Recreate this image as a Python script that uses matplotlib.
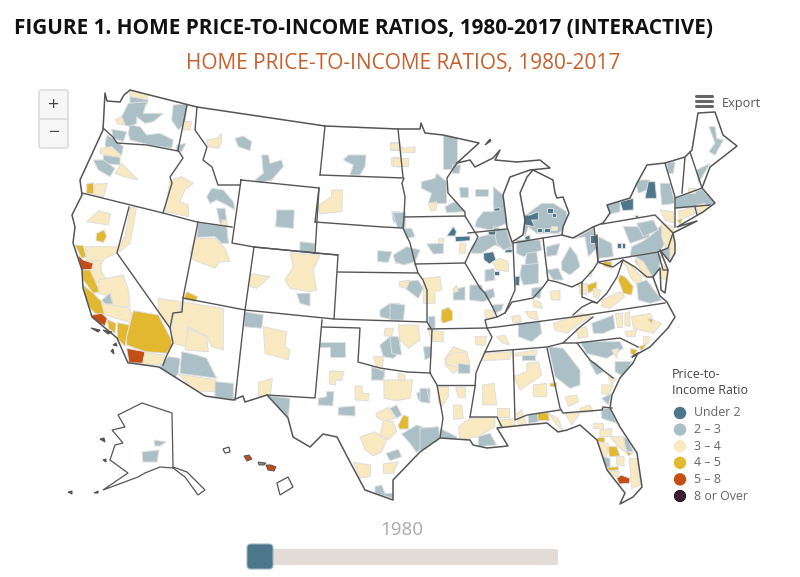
import matplotlib
matplotlib.use("Agg")
import matplotlib.pyplot as plt
from matplotlib.patches import Polygon, FancyBboxPatch, PathPatch, Circle
from matplotlib.path import Path

TITLE = "FIGURE 1. HOME PRICE-TO-INCOME RATIOS, 1980-2017 (INTERACTIVE)"
SUBTITLE = "HOME PRICE-TO-INCOME RATIOS, 1980-2017"
YEAR = "1980"
LEGEND_TITLE = ["Price-to-", "Income Ratio"]
CATEGORIES = ["Under 2", "2 – 3", "3 – 4", "4 – 5", "5 – 8", "8 or Over"]
COLORS = ["#4c7689", "#abbfc6", "#f9e9c0", "#e2b82f", "#c44f14", "#3a1e2e"]
D, G, Y, A, O = 0, 1, 2, 3, 4

US_OUTLINE = [(105,93),(107,101),(120,102),(124,95),(130,90),(197,107),(325,126),(398,129),(420,129),(421,123),(425,133),(443,135),(479,143),
 (457,163),(470,160),(475,167),(493,158),(500,150),(495,160),(517,162),(540,160),(550,168),(530,170),(510,177),(503,195),(505,210),(507,227),(512,242),(523,235),(525,220),
 (520,193),(527,177),(533,170),(553,180),(555,193),(557,198),(563,197),(569,213),(563,227),(562,235),(573,238),(593,227),(603,223),(610,213),(607,205),(630,198),
 (637,183),(647,165),(665,163),(685,157),(692,150),(698,113),(715,112),(723,135),(737,146),(723,157),(710,167),(702,188),(715,203),(703,212),(677,227),(697,221),(673,233),
 (675,243),(675,253),(670,262),(660,250),(668,270),(665,293),(661,290),(660,268),(653,277),(660,296),(667,302),(675,317),(668,328),(650,347),(632,357),(638,353),(633,363),
 (620,378),(612,395),(610,408),(620,427),(637,453),(642,487),(633,497),(620,504),(625,493),(607,470),(597,440),(580,425),(567,430),(558,432),(547,423),(525,425),
 (497,428),(508,446),(487,448),(473,445),(470,440),(440,438),(420,452),(393,480),(393,500),(365,490),(350,462),(337,437),(323,434),(310,447),(293,437),(288,418),
 (267,395),(245,402),(243,396),(233,400),(205,396),(159,367),(130,363),(128,363),(117,338),(92,317),(83,288),(82,270),(73,243),(75,227),(72,215),(82,195),(80,180),(103,130)]

STATE_LINES = [
 [(82,193),(163,213),(197,222),(232,227)],
 [(103,128),(113,137),(117,143),(147,145),(178,151)],
 [(187,105),(178,150),(183,158),(170,177),(172,183),(163,213)],
 [(197,107),(195,130),(207,147),(203,160),(212,167),(218,185),(240,185)],
 [(241,180),(319,188),(315,253),(254,247),(232,243),(241,180)],
 [(198,222),(183,298),(245,310),(254,247)],
 [(129,207),(117,253),(170,328),(173,343),(167,355),(163,365)],
 [(183,298),(182,312),(173,313),(170,328)],
 [(245,310),(235,400)],
 [(245,310),(334,319),(338,255),(254,247)],
 [(322,320),(315,398),(267,395)],
 [(322,327),(360,328),(358,362),(380,368),(407,372),(430,373)],
 [(334,319),(427,322)],
 [(338,272),(418,273),(423,280),(427,290),(427,322),(432,330),(430,373)],
 [(315,222),(383,227),(403,228),(410,243),(415,263),(418,273)],
 [(338,255),(314,253)],[(315,222),(319,188)],
 [(320,175),(404,178),(402,183),(405,197),(404,217),(403,228)],
 [(325,126),(320,175)],[(398,129),(403,177)],
 [(404,217),(465,216),(478,237),(470,252),(465,263),(480,288),(485,293),(493,308),(497,317),(505,313),(515,290),(513,243)],
 [(457,163),(447,178),(448,193),(465,212),(465,216)],
 [(415,264),(465,263)],
 [(468,233),(507,229)],
 [(513,243),(543,238),(562,235)],
 [(543,238),(548,280)],
 [(505,313),(512,302),(523,300),(533,298),(543,287),(548,280),(557,282),(572,287),(582,282),(593,270),(598,262),(597,235)],
 [(594,227),(598,262)],
 [(602,224),(655,215),(663,223),(673,233),(668,248),(658,252),(598,262)],
 [(665,163),(675,197),(675,227)],
 [(675,208),(710,205)],[(675,198),(702,188)],[(695,207),(697,215)],
 [(685,157),(682,193)],[(690,152),(702,188)],
 [(598,262),(600,263),(613,267),(623,260),(635,267),(647,277),(653,277)],
 [(658,252),(663,270),(668,270)],
 [(623,260),(617,277),(607,293),(597,303),(582,297),(582,282)],
 [(573,315),(582,307),(592,302),(597,303)],
 [(487,328),(497,327),(573,317),(665,303)],
 [(428,329),(487,328),(485,320),(497,317)],
 [(487,328),(492,337),(485,352),(480,363),(476,373),(475,387),(470,417)],
 [(485,352),(547,347),(563,343)],
 [(593,317),(580,327),(563,343),(577,343),(620,338),(638,347)],
 [(577,343),(590,360),(613,378)],
 [(547,348),(560,408),(563,413),(602,410),(603,407),(612,408)],
 [(513,350),(515,420),(527,415),(560,410)],
 [(437,385),(475,385)],
 [(430,373),(437,385),(443,418),(440,438)],
 [(470,417),(497,417),(502,427)],
]

ALASKA = [(118,415),(142,403),(172,413),(173,467),(187,472),(205,490),(198,495),(185,477),(173,468),(160,467),(145,473),(138,477),(103,490),(128,473),
 (110,460),(115,445),(123,443),(112,430),(125,427)]
HAWAII_BIG = [(277,483),(288,477),(293,487),(280,495)]
HAWAII_KAUAI = [(223,449),(229,447),(230,452),(225,453)]
HAWAII_OAHU = [(244,456),(249,455),(252,459),(247,461)]
HAWAII_MAUI = [(266,465),(271,465),(276,467),(274,471),(268,470)]
HAWAII_MOLOKAI = [(258,462),(266,463),(264,465),(259,465)]
AK_METROS = [[(142,452),(159,450),(157,462),(143,462)],[(154,440),(166,442),(160,446),(155,446)]]
ISLANDS = [[(91,328),(100,330),(98,332)],[(103,330),(112,332),(108,334)],[(113,345),(116,343),(117,346)],[(111,351),(113,349),(114,354)],
 [(100,439),(104,438),(105,442)],[(103,460),(106,459),(106,462)],[(68,492),(72,491),(72,494)],[(94,493),(98,491),(98,493)],[(485,145),(490,139),(491,141)]]

WEST = [
 (Y,[(298,30),(355,45),(350,60),(300,50)]),(G,[(300,50),(355,60),(350,75),(300,80)]),
 (G,[(270,120),(295,70),(350,65),(340,100),(400,100),(370,125),(345,130),(320,110),(320,130),(300,140),(270,130)]),
 (Y,[(255,120),(275,110),(285,132),(265,133)]),(G,[(430,75),(472,72),(465,130),(445,150),(425,120)]),(Y,[(460,125),(485,125),(480,150),(460,150)]),
 (G,[(300,135),(330,140),(350,165),(390,160),(430,180),(425,205),(360,195),(300,180),(295,160)]),(G,[(245,148),(290,155),(280,185),(250,175)]),
 (G,[(230,165),(250,175),(280,200),(275,225),(245,225),(225,195)]),(Y,[(212,205),(245,200),(272,225),(270,235),(230,225),(210,220)]),
 (G,[(220,225),(270,232),(270,255),(220,250)]),(G,[(190,240),(220,240),(255,265),(240,290),(205,270)]),(Y,[(255,280),(275,250),(295,270),(325,300),(280,290)]),
 (A,[(170,312),(190,308),(192,342),(170,340)]),(Y,[(195,312),(232,310),(220,352),(190,342)]),(G,[(440,195),(468,190),(455,215),(440,215)]),
 (Y,[(530,180),(560,175),(575,160),(575,185),(565,205),(535,200)]),(G,[(615,175),(640,168),(665,185),(660,212),(625,200)]),
 (G,[(675,300),(700,280),(695,225),(715,225),(720,250),(755,240),(760,260),(725,300),(690,308)]),
 (Y,[(420,300),(455,290),(490,310),(465,330),(450,365),(475,375),(475,410),(405,395)]),(G,[(530,350),(545,325),(580,330),(610,365),(615,390),(590,375),(560,360),(540,370)]),
 (G,[(560,385),(585,385),(590,425),(570,430)]),(Y,[(575,420),(590,420),(595,490),(575,480)]),(G,[(740,390),(793,390),(790,445),(737,440)]),
 (G,[(810,485),(855,490),(852,520),(810,515)]),(Y,[(865,375),(905,350),(905,330),(938,330),(935,395),(870,402)]),
 (G,[(940,240),(955,225),(1008,225),(1005,260),(990,285),(960,285),(970,255)]),(Y,[(1080,185),(1110,185),(1110,210),(1080,210)]),(Y,[(1085,232),(1110,232),(1110,262),(1085,258)]),
 (G,[(1085,395),(1110,395),(1110,435),(1090,425)]),(G,[(1043,512),(1085,515),(1075,547),(1043,545)]),(G,[(1095,530),(1110,530),(1110,550),(1095,550)]),
 (G,[(1050,690),(1080,670),(1110,670),(1110,725),(1050,710)]),(Y,[(170,425),(205,392),(242,402),(235,435)]),(A,[(200,460),(222,450),(230,470),(220,487),(198,482)]),
 (Y,[(300,382),(320,382),(300,490),(270,515),(265,500),(285,470)]),(A,[(135,495),(160,497),(168,530),(155,535)]),
 (Y,[(165,500),(260,500),(262,520),(225,535),(200,575),(170,540)]),(Y,[(180,545),(210,540),(215,575),(230,600),(190,610),(170,570)]),
 (O,[(145,525),(160,540),(190,550),(185,568),(160,570),(152,590)]),(A,[(155,570),(180,570),(210,635),(190,640),(160,600)]),
 (Y,[(205,600),(280,585),(295,630),(300,680),(250,680),(245,650),(205,640)]),(A,[(160,615),(190,640),(215,665),(225,715),(195,700),(180,685),(165,650)]),
 (G,[(215,660),(240,640),(248,672),(225,672)]),(Y,[(215,670),(300,685),(310,730),(225,705)]),(O,[(185,705),(215,700),(232,715),(225,738),(188,720)]),
 (A,[(232,718),(258,730),(255,760),(235,745)]),(A,[(262,728),(298,735),(290,770),(285,800),(262,775)]),
 (A,[(310,692),(385,705),(430,790),(410,820),(345,815),(290,795),(290,770)]),(O,[(290,805),(345,815),(338,850),(297,848)]),(Y,[(345,818),(405,825),(400,855),(340,852)]),
 (Y,[(385,655),(455,665),(450,695),(425,705),(420,745),(385,700)]),(A,[(470,635),(503,650),(497,665),(460,658)]),
 (Y,[(460,665),(515,675),(580,685),(580,810),(545,800),(530,770),(475,740),(470,800),(425,790),(425,745),(430,700),(450,700)]),(Y,[(475,745),(530,770),(535,815),(465,810)]),
 (G,[(505,428),(590,440),(595,490),(575,490),(555,470),(500,472)]),(Y,[(495,475),(555,475),(585,505),(600,545),(570,545),(555,565),(490,540),(480,520)]),
 (Y,[(660,580),(720,590),(680,625),(660,620)]),(Y,[(780,518),(870,525),(850,570),(860,630),(840,635),(780,625),(765,600),(790,560)]),(G,[(800,640),(840,640),(840,678),(810,670)]),
 (G,[(645,695),(700,705),(695,745),(642,740)]),(Y,[(700,740),(770,755),(765,800),(780,810),(775,840),(705,820)]),
 (G,[(870,785),(945,785),(945,830),(900,830),(900,800),(868,800)]),(Y,[(903,872),(940,875),(935,900),(903,900)]),
 (G,[(1050,795),(1080,770),(1110,775),(1110,815),(1090,835),(1060,830)]),(Y,[(1065,745),(1090,745),(1085,768),(1062,768)]),(Y,[(1030,830),(1060,830),(1058,860),(1040,860)]),(G,[(1025,865),(1065,870),(1060,900),(1025,900)]),
]
SOUTHWEST = [
 (G,[(360,130),(365,65),(410,75),(440,85),(470,145)]),(Y,[(355,132),(468,150),(465,185),(430,185),(400,180)]),(G,[(465,155),(520,160),(520,210),(465,200)]),(G,[(298,112),(325,80),(360,85),(355,130),(345,145)]),
 (Y,[(595,157),(637,145),(630,205),(595,197)]),(G,[(622,197),(690,205),(685,265)]),(Y,[(808,125),(852,125),(845,150),(828,148),(826,165),(808,162)]),
 (G,[(775,205),(800,200),(800,185),(822,185),(818,228),(775,225)]),(Y,[(885,168),(905,168),(908,190),(928,190),(925,212),(885,210)]),(G,[(835,232),(885,228),(885,258),(835,255)]),
 (Y,[(972,150),(1058,150),(1050,205),(1010,212),(972,205)]),(G,[(935,110),(975,125),(970,150),(935,150)]),(Y,[(1015,130),(1035,135),(1035,150),(1015,150)]),(G,[(1070,190),(1090,180),(1110,175),(1110,215),(1075,210)]),
 (Y,[(948,250),(985,232),(1005,265),(975,275),(950,262)]),(G,[(990,235),(1010,225),(1025,255),(1010,265)]),(A,[(1015,285),(1030,255),(1045,260),(1045,297),(1018,297)]),
 (Y,[(960,315),(970,272),(1000,275),(1010,305),(985,330)]),(Y,[(900,320),(945,305),(980,330),(965,365),(940,378),(915,360)]),(G,[(1025,312),(1070,285),(1110,300),(1110,330),(1070,368),(1050,340)]),
 (G,[(978,370),(1015,358),(1025,380),(990,392)]),(Y,[(970,402),(1015,395),(1000,430),(970,430)]),(Y,[(880,397),(932,405),(930,440),(900,445)]),(G,[(945,470),(965,465),(975,490),(1000,490),(1000,505),(945,490)]),
]
EAST = [
 (Y,[(25,195),(45,205),(75,200),(75,218),(35,218)]),(Y,[(0,188),(28,188),(28,208),(0,208)]),(Y,[(8,235),(55,235),(55,258),(8,258)]),
 (G,[(160,165),(200,165),(200,268),(160,268)]),(G,[(187,255),(212,255),(208,280),(187,280)]),(G,[(95,305),(135,295),(140,280),(170,305),(170,370),(115,370),(125,340),(95,325)]),
 (Y,[(115,370),(140,365),(138,392),(122,392)]),(G,[(165,380),(195,365),(225,395),(170,398)]),(G,[(5,395),(45,395),(45,440),(20,440)]),
 (G,[(208,322),(235,322),(235,350),(210,350)]),(G,[(255,328),(295,328),(295,348),(255,348)]),(G,[(310,320),(345,350),(345,395),(350,430),(300,450),(255,440),(260,420),(280,395),(310,395)]),
 (D,[(312,385),(330,383),(330,393),(312,393)]),(D,[(170,468),(190,440),(200,455),(195,468)]),(D,[(195,470),(240,468),(240,482),(197,485)]),
 (G,[(110,492),(160,490),(160,520),(130,522)]),(Y,[(145,475),(160,475),(160,488),(145,488)]),(Y,[(210,490),(228,490),(225,520),(208,520)]),
 (G,[(40,445),(65,445),(75,470),(50,475)]),(G,[(10,525),(50,500),(90,510),(75,545),(40,555),(15,545)]),
 (G,[(245,500),(270,470),(310,460),(370,490),(360,515),(315,495),(275,520),(245,520)]),(G,[(310,440),(350,450),(365,500),(340,510),(320,490)]),
 (D,[(295,455),(318,452),(316,465),(296,465)]),(D,[(280,520),(310,515),(318,540),(298,552),(282,540)]),(D,[(345,510),(368,508),(365,518),(345,518)]),
 (Y,[(308,545),(330,535),(355,545),(355,575),(320,570)]),(G,[(285,570),(312,565),(315,600),(285,605)]),(D,[(312,572),(326,572),(326,585),(312,585)]),
 (G,[(240,615),(275,615),(280,635),(310,625),(315,650),(280,665),(238,660)]),(G,[(305,675),(340,672),(335,690),(315,700)]),(Y,[(285,690),(308,690),(310,715),(285,715)]),
 (Y,[(100,595),(150,590),(155,630),(135,635),(135,670),(100,670)]),(G,[(50,605),(85,600),(100,625),(85,655),(45,625)]),(Y,[(28,605),(60,600),(50,625),(28,620)]),
 (G,[(190,630),(225,620),(225,660),(190,660)]),(Y,[(190,625),(200,615),(205,635),(190,637)]),(A,[(155,690),(175,682),(188,695),(188,720),(160,730),(153,720)]),
 (G,[(0,670),(45,675),(40,720),(0,720)]),(G,[(115,710),(135,708),(135,745),(115,745)]),
 (G,[(455,370),(490,370),(530,395),(530,440),(505,460),(440,460),(415,440),(405,470),(395,430),(400,410)]),(D,[(395,405),(420,405),(445,395),(445,420),(425,420),(435,440),(405,435)]),
 (D,[(470,385),(488,385),(488,400),(470,400)]),(D,[(440,445),(455,445),(455,455),(440,455)]),(D,[(462,445),(480,445),(480,455),(462,455)]),(D,[(485,400),(497,400),(497,412),(485,412)]),
 (Y,[(482,438),(500,438),(500,450),(482,450)]),(D,[(405,470),(420,465),(420,480),(405,482)]),
 (G,[(380,480),(450,480),(455,510),(400,530),(380,520)]),(G,[(410,520),(440,515),(445,555),(405,555)]),(G,[(395,555),(445,550),(445,610),(400,615),(390,585)]),(D,[(375,590),(390,588),(388,618),(375,615)]),(G,[(425,625),(455,620),(450,655),(425,650)]),
 (G,[(515,545),(540,500),(560,525),(570,560),(540,585),(515,570)]),(G,[(555,475),(610,445),(620,505),(595,530),(585,470)]),(G,[(470,500),(510,490),(500,525),(470,530)]),(G,[(470,570),(505,565),(520,600),(490,600)]),(D,[(600,465),(620,465),(620,490),(600,490)]),
 (G,[(625,470),(665,490),(670,530),(625,535)]),(D,[(682,490),(692,490),(692,505),(682,505)]),(D,[(695,488),(705,488),(705,505),(695,505)]),
 (G,[(725,500),(765,480),(790,460),(820,430),(830,480),(810,515),(720,530)]),(G,[(700,440),(760,440),(780,470),(720,490)]),(G,[(740,430),(790,420),(805,450),(760,470)]),
 (G,[(735,300),(780,300),(770,330),(745,340)]),(G,[(650,370),(690,360),(690,395),(650,405)]),(D,[(690,365),(730,355),(730,390),(698,392)]),(D,[(775,305),(795,305),(800,355),(765,355)]),
 (G,[(810,310),(840,310),(855,370),(815,375)]),(Y,[(810,390),(850,395),(855,430),(825,420)]),(D,[(735,405),(745,405),(745,412),(735,412)]),
 (Y,[(815,430),(850,440),(855,490),(860,530),(840,545),(815,470)]),(G,[(815,510),(840,500),(840,540),(815,530)]),
 (G,[(855,355),(935,328),(975,370),(950,380),(855,385)]),(Y,[(865,395),(910,380),(915,400),(870,420)]),(Y,[(920,375),(945,370),(960,390),(925,405)]),(A,[(862,420),(878,415),(870,435)]),(Y,[(850,455),(920,422),(860,465)]),
 (G,[(957,140),(975,140),(980,175),(1000,180),(975,225),(957,215),(975,190)]),(G,[(920,270),(960,250),(925,310)]),(Y,[(895,325),(915,325),(915,340),(895,340)]),(G,[(830,250),(855,245),(850,280),(835,280)]),
 (G,[(740,525),(800,515),(815,530),(800,590),(770,590),(735,545)]),(Y,[(735,530),(760,545),(790,595),(760,590)]),(Y,[(815,550),(835,570),(830,600),(812,595)]),(A,[(640,545),(665,545),(665,565),(640,558)]),(Y,[(690,540),(712,545),(755,590),(750,625),(720,590),(710,560)]),
 (Y,[(595,575),(605,570),(605,590),(595,590)]),(A,[(592,615),(620,605),(620,625),(595,640)]),(Y,[(565,610),(590,610),(590,645),(570,640)]),(Y,[(610,625),(632,630),(625,655),(610,650)]),
 (A,[(690,585),(705,590),(730,620),(725,645),(700,640),(685,600)]),(G,[(740,610),(770,600),(815,660),(780,670),(745,660)]),(Y,[(635,660),(690,635),(705,650),(660,685),(635,680)]),
 (Y,[(480,635),(510,630),(510,660),(485,660)]),(Y,[(430,660),(450,665),(458,685),(430,680)]),(Y,[(405,695),(440,695),(445,720),(420,715)]),(Y,[(365,710),(390,705),(395,725),(370,730)]),
 (G,[(385,730),(450,725),(455,760),(425,785),(385,770)]),(Y,[(490,730),(520,720),(575,700),(605,710),(570,730),(530,760),(495,750)]),(Y,[(320,770),(345,765),(358,795),(340,790)]),
 (G,[(605,730),(670,705),(675,745),(640,760),(610,760)]),(Y,[(675,700),(695,700),(695,740),(680,740)]),(Y,[(705,700),(720,695),(720,740),(705,735)]),(Y,[(725,710),(780,700),(790,720),(815,730),(790,760),(730,745)]),(A,[(772,715),(788,718),(785,732)]),
 (Y,[(705,755),(740,750),(735,770),(710,770)]),(Y,[(558,745),(590,740),(595,770),(565,775)]),(Y,[(760,770),(780,770),(775,790),(760,795)]),
 (Y,[(25,735),(85,735),(90,780),(55,805),(30,780)]),(G,[(0,770),(25,770),(35,825),(5,820)]),(Y,[(115,750),(160,755),(160,785),(125,785)]),(G,[(100,800),(125,800),(125,830),(105,840)]),(Y,[(255,770),(290,770),(285,795),(258,795)]),
 (Y,[(165,835),(190,800),(230,815),(235,850),(190,880),(165,855)]),(G,[(210,850),(240,855),(235,880),(205,875)]),
]
SOUTHEAST = [
 (Y,[(75,85),(100,70),(140,65),(150,100),(125,115),(85,105)]),(G,[(115,100),(150,105),(150,130),(115,130)]),(G,[(0,175),(20,175),(30,220),(0,215)]),
 (Y,[(190,70),(275,65),(270,88),(188,92)]),(Y,[(188,165),(222,160),(230,225),(188,225)]),(Y,[(55,170),(85,170),(85,200),(65,230),(55,215)]),(Y,[(105,170),(135,170),(135,200),(115,200)]),(Y,[(100,225),(125,225),(130,265),(100,268)]),
 (Y,[(232,235),(268,235),(268,260),(232,260)]),(Y,[(235,270),(285,265),(285,290),(240,295)]),(Y,[(150,265),(225,262),(225,290),(175,320),(120,330),(115,290)]),(G,[(175,320),(210,310),(230,345),(175,350)]),
 (G,[(60,295),(110,320),(110,330),(60,325)]),(G,[(0,295),(55,290),(60,325),(0,365)]),
 (Y,[(280,140),(320,125),(320,100),(355,95),(365,135),(330,160),(300,180)]),(Y,[(340,165),(380,160),(380,200),(340,200)]),(A,[(390,160),(410,158),(410,170),(390,170)]),(Y,[(285,70),(350,60),(350,75),(285,78)]),(G,[(305,75),(345,75),(345,90),(305,90)]),
 (G,[(385,50),(430,55),(480,120),(480,165),(450,175),(405,140)]),(G,[(505,90),(530,100),(550,125),(530,135)]),(Y,[(435,200),(470,195),(475,215),(445,230)]),(Y,[(480,235),(510,225),(520,245),(480,247)]),
 (Y,[(290,250),(305,240),(320,285),(295,285)]),(G,[(325,255),(355,250),(355,275),(325,280)]),(A,[(352,250),(385,248),(388,272),(355,272)]),(Y,[(385,250),(415,265),(430,305),(410,285)]),(Y,[(435,250),(480,250),(455,285)]),
 (G,[(545,235),(570,235),(590,280),(545,265)]),(Y,[(520,280),(550,280),(550,298),(520,295)]),(Y,[(540,300),(575,295),(575,320),(540,320)]),(A,[(532,322),(552,322),(552,335),(532,335)]),(Y,[(535,335),(565,340),(560,380),(535,380)]),(A,[(542,378),(550,378),(548,388),(540,388)]),
 (Y,[(570,320),(610,320),(620,370),(595,350)]),(A,[(565,350),(590,350),(600,378),(568,380)]),(G,[(610,320),(625,330),(640,365),(620,365)]),(A,[(618,365),(638,370),(625,378)]),(Y,[(590,380),(612,380),(612,408),(590,405)]),
 (G,[(545,380),(570,385),(570,415),(545,405)]),(A,[(562,412),(595,410),(595,420),(565,422)]),(Y,[(568,422),(600,425),(590,440),(570,435)]),(O,[(590,445),(603,435),(630,445),(628,460),(598,462)]),(Y,[(628,385),(650,385),(662,465),(635,475)]),
 (G,[(480,35),(600,35),(610,55),(560,85),(500,70)]),(Y,[(575,60),(595,55),(590,85)]),(G,[(585,95),(635,95),(610,140),(585,125)]),(A,[(632,55),(652,60),(642,78),(632,70)]),(A,[(655,50),(680,42),(665,62)]),
 (Y,[(565,140),(590,145),(575,165)]),(Y,[(545,165),(580,165),(565,195),(545,190)]),(G,[(545,205),(575,190),(565,225)]),
]
REGIONS = [(WEST,30,80),(EAST,390,80),(SOUTHWEST,60,330),(SOUTHEAST,420,330)]

LINE = "#555555"
plt.rcParams["font.family"] = ["Open Sans", "DejaVu Sans"]
fig = plt.figure(figsize=(8, 5.77), dpi=100)
ax = fig.add_axes([0, 0, 1, 1])
ax.set_xlim(0, 800); ax.set_ylim(577, 0); ax.axis("off")

clip_verts = US_OUTLINE + [US_OUTLINE[0]]
clip_path = PathPatch(Path(clip_verts), transform=ax.transData, fc="none", ec="none")
ax.add_patch(clip_path)
for metros, x0, y0 in REGIONS:
    for cat, pts in metros:
        p = Polygon([(x0 + a / 3, y0 + b / 3) for a, b in pts], closed=True, fc=COLORS[cat], ec="#dedede", lw=0.7, zorder=2)
        ax.add_patch(p)
        p.set_clip_path(clip_path)
for pts in AK_METROS:
    ax.add_patch(Polygon(pts, closed=True, fc=COLORS[G], ec="#dedede", lw=0.7, zorder=2))
ax.add_patch(Polygon(US_OUTLINE, closed=True, fc="none", ec=LINE, lw=1.1, zorder=4, joinstyle="round"))
for line in STATE_LINES:
    ax.plot(*zip(*line), color=LINE, lw=1.0, zorder=3, solid_joinstyle="round")
ax.add_patch(Polygon(ALASKA, closed=True, fc="none", ec=LINE, lw=0.9, zorder=4))
ax.add_patch(Polygon(HAWAII_BIG, closed=True, fc="white", ec=LINE, lw=0.9, zorder=4))
ax.add_patch(Polygon(HAWAII_KAUAI, closed=True, fc="white", ec=LINE, lw=0.9, zorder=4))
ax.add_patch(Polygon(HAWAII_OAHU, closed=True, fc=COLORS[O], ec=LINE, lw=0.7, zorder=4))
ax.add_patch(Polygon(HAWAII_MAUI, closed=True, fc=COLORS[O], ec=LINE, lw=0.7, zorder=4))
ax.add_patch(Polygon(HAWAII_MOLOKAI, closed=True, fc="#888888", ec=LINE, lw=0.7, zorder=4))
for pts in ISLANDS:
    ax.add_patch(Polygon(pts, closed=True, fc=LINE, ec=LINE, lw=0.8, zorder=4))

ax.text(14, 29, TITLE, fontsize=14.97, fontweight="bold", color="#111111", va="center", ha="left")
ax.text(403, 64, SUBTITLE, fontsize=15, color="#c8602c", va="center", ha="center")

# zoom control
ax.add_patch(FancyBboxPatch((39, 90), 29, 58, boxstyle="round,pad=0,rounding_size=2", fc="#f6f6f6", ec="#dcdcdc", lw=1.2, zorder=5))
ax.plot([39, 68], [119, 119], color="#dcdcdc", lw=1.2, zorder=6)
ax.text(54, 105, "+", fontsize=14, color="#444444", ha="center", va="center", zorder=7)
ax.text(54, 133.5, "−", fontsize=14, color="#444444", ha="center", va="center", zorder=7)

# export control
for yy in (96, 101, 106):
    ax.plot([696, 712], [yy, yy], color="#666666", lw=2.2, zorder=5, solid_capstyle="round")
ax.text(722, 103, "Export", fontsize=9.2, color="#555555", va="center", ha="left")

# legend
ax.text(672, 375, LEGEND_TITLE[0], fontsize=8.9, color="#444444", va="center", ha="left")
ax.text(672, 390.5, LEGEND_TITLE[1], fontsize=8.9, color="#444444", va="center", ha="left")
for i, (lab, c) in enumerate(zip(CATEGORIES, COLORS)):
    yy = 413 + i * 16.6
    ax.add_patch(Circle((680, yy), 6.2, fc=c, ec="none", zorder=5))
    ax.text(694, yy, lab, fontsize=8.9, color="#666666", va="center", ha="left")

# slider
ax.text(402, 530, YEAR, fontsize=13.5, color="#aaaaaa", va="center", ha="center")
ax.add_patch(FancyBboxPatch((260, 549), 298, 16, boxstyle="round,pad=0,rounding_size=2", fc="#e3dbd5", ec="none", zorder=2))
ax.add_patch(FancyBboxPatch((247, 544), 26, 25, boxstyle="round,pad=0,rounding_size=4", fc="#4c7689", ec="#9fb6c0", lw=0.8, zorder=3))

fig.savefig("out.png", dpi=100, facecolor="white")
